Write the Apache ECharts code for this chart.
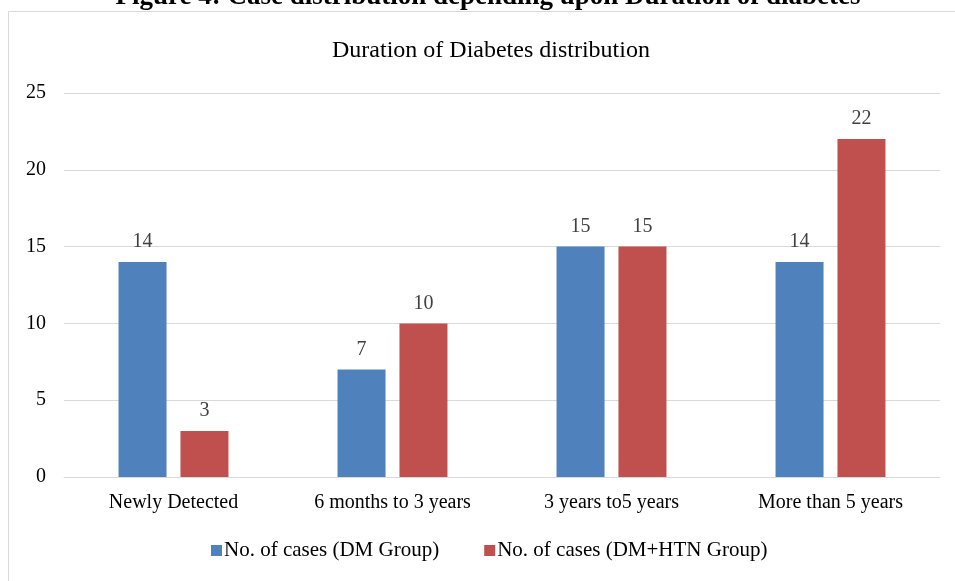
<!DOCTYPE html>
<html><head><meta charset="utf-8">
<script src="https://cdn.jsdelivr.net/npm/echarts@6/dist/echarts.min.js"></script>
<style>html,body{margin:0;padding:0;background:#fff}#c{width:955px;height:581px}</style>
</head><body><div id="c"></div>
<script>
const categories = ['Newly Detected', '6 months to 3 years', '3 years to5 years', 'More than 5 years'];
const dmGroup = [14, 7, 15, 14];
const dmHtnGroup = [3, 10, 15, 22];
const seriesNames = ['No. of cases (DM Group)', 'No. of cases (DM+HTN Group)'];
const yTicks = {min: 0, max: 25, interval: 5};

const font = '"Liberation Serif", "Times New Roman", serif';
const chart = echarts.init(document.getElementById('c'), null, {renderer: 'canvas'});
chart.setOption({
  animation: false,
  textStyle: {fontFamily: font},
  graphic: [
    {type: 'rect', shape: {x: 8.5, y: 11.5, width: 960, height: 600}, style: {fill: 'none', stroke: '#d9d9d9', lineWidth: 1}, z: -1},
    {type: 'text', x: 488, y: 11, style: {text: 'Figure 4: Case distribution depending upon Duration of diabetes', font: 'bold 27px ' + font, fill: '#000', align: 'center', verticalAlign: 'bottom'}}
  ],
  title: {
    text: 'Duration of Diabetes distribution', left: 327, top: 34,
    textStyle: {fontFamily: font, fontSize: 24, fontWeight: 'normal', color: '#000'}
  },
  legend: {
    bottom: 15, left: 206, itemWidth: 11, itemHeight: 11, itemGap: 45,
    icon: 'rect',
    textStyle: {fontFamily: font, fontSize: 21, color: '#000', padding: [0, 0, 0, -3]},
    data: seriesNames
  },
  grid: {left: 64, right: 15, top: 93, bottom: 104, containLabel: false},
  xAxis: {
    type: 'category', data: categories,
    axisLine: {lineStyle: {color: '#d9d9d9'}},
    axisTick: {show: false},
    axisLabel: {fontFamily: font, fontSize: 20, color: '#000', margin: 16}
  },
  yAxis: {
    type: 'value', min: yTicks.min, max: yTicks.max, interval: yTicks.interval,
    axisLine: {show: false}, axisTick: {show: false},
    splitLine: {lineStyle: {color: '#d9d9d9'}},
    axisLabel: {fontFamily: font, fontSize: 20, color: '#000', margin: 18}
  },
  series: [
    {name: seriesNames[0], type: 'bar', data: dmGroup, barWidth: 48, barGap: '29%',
     itemStyle: {color: '#4f81bd'},
     label: {show: true, position: 'top', distance: 10, fontFamily: font, fontSize: 20, color: '#404040'}},
    {name: seriesNames[1], type: 'bar', data: dmHtnGroup, barWidth: 48, barGap: '29%',
     itemStyle: {color: '#c0504d'},
     label: {show: true, position: 'top', distance: 10, fontFamily: font, fontSize: 20, color: '#404040'}}
  ]
});
</script></body></html>
